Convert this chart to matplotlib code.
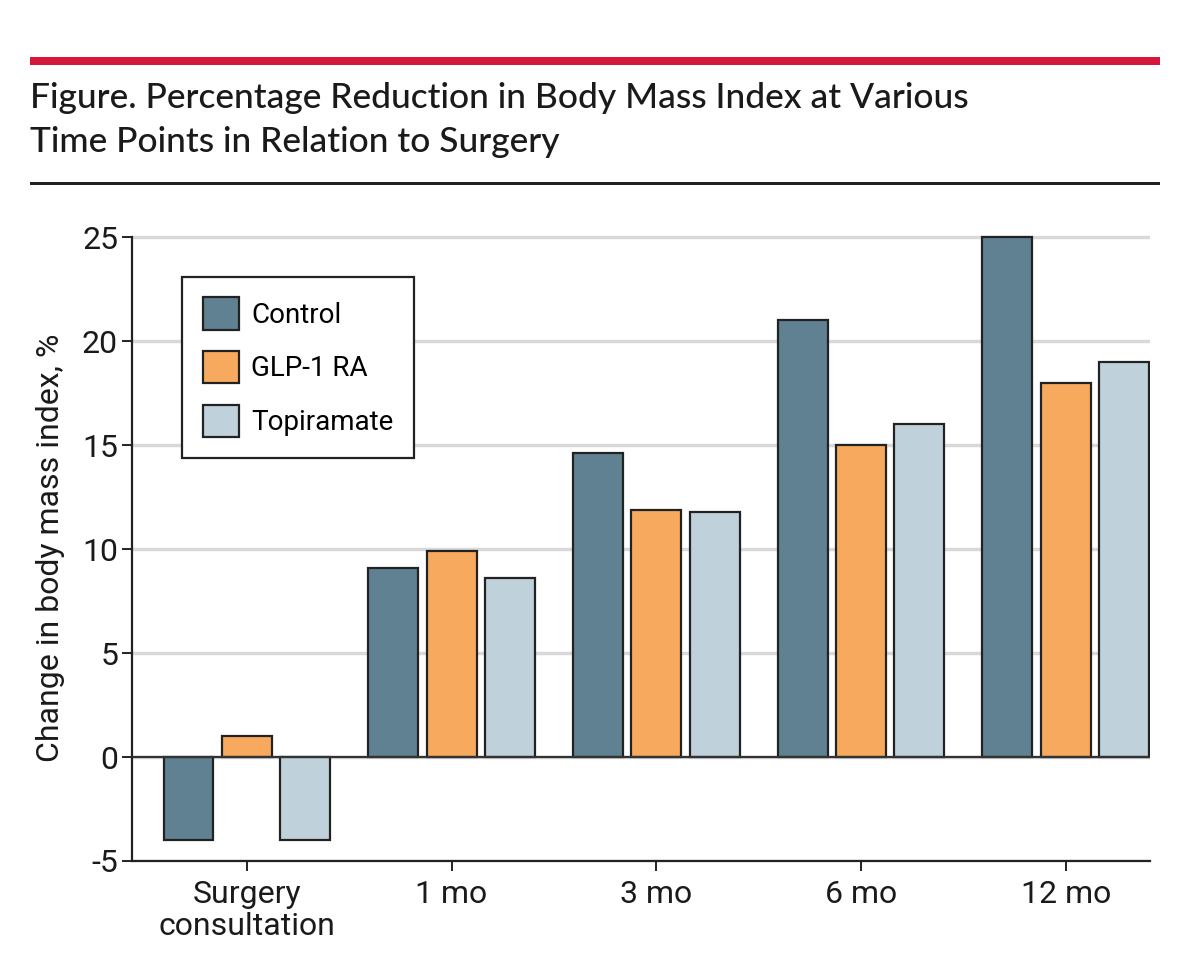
import numpy as np
import matplotlib
matplotlib.use('Agg')
import matplotlib.pyplot as plt
from matplotlib.patches import Rectangle

# chart data
categories = ['Surgery\nconsultation', '1 mo', '3 mo', '6 mo', '12 mo']
groups = ['Control', 'GLP-1 RA', 'Topiramate']
control = [-4.0, 9.1, 14.6, 21.0, 25.0]
glp1 = [1.0, 9.9, 11.9, 15.0, 18.0]
topiramate = [-4.0, 8.6, 11.8, 16.0, 19.0]
y_ticks = [-5, 0, 5, 10, 15, 20, 25]

colors = ['#5f8191', '#f7aa5e', '#bfd2dc']
edge = '#222222'
body_font = ['Roboto', 'DejaVu Sans']
title_font = ['Lato', 'DejaVu Sans']

plt.rcParams['axes.unicode_minus'] = False

fig = plt.figure(figsize=(12, 9.68), dpi=100, facecolor='w')

# header: red rule, title, black rule
fig.patches.append(Rectangle((30 / 1200, 1 - 65 / 968), 1130 / 1200, 8 / 968,
                             transform=fig.transFigure, color='#d4173a', lw=0))
fig.patches.append(Rectangle((30 / 1200, 1 - 185 / 968), 1130 / 1200, 3 / 968,
                             transform=fig.transFigure, color='#222222', lw=0))
fig.text(30 / 1200, 1 - 108 / 968, 'Figure. Percentage Reduction in Body Mass Index at Various',
         fontsize=25.5, family=title_font, weight='medium', color='#1a1a1a', va='baseline')
fig.text(30 / 1200, 1 - 152 / 968, 'Time Points in Relation to Surgery',
         fontsize=25.5, family=title_font, weight='medium', color='#1a1a1a', va='baseline')

ax = fig.add_axes([132 / 1200, 107 / 968, 1018 / 1200, 627 / 968])

x = np.arange(len(categories))
width = 0.244
step = 0.285
for i, (vals, name) in enumerate(zip([control, glp1, topiramate], groups)):
    ax.bar(x + (i - 1) * step, vals, width, color=colors[i], edgecolor=edge,
           linewidth=1.6, label=name, zorder=3)

ax.axhline(0, color='#333333', lw=1.6, zorder=4)
ax.set_axisbelow(True)
ax.grid(axis='y', color='#d9d9d9', lw=2.5)

ax.set_xlim(-0.561, 4.412)
ax.set_ylim(-5, 25.15)
ax.set_yticks(y_ticks)
ax.set_xticks(x)
ax.set_xticklabels(categories)

for s in ['top', 'right']:
    ax.spines[s].set_visible(False)
ax.spines['left'].set_bounds(-5, 25)
for s in ['left', 'bottom']:
    ax.spines[s].set_color('#222222')
    ax.spines[s].set_linewidth(1.6)

ax.tick_params(axis='both', length=7, width=1.4, color='#222222',
               labelsize=23, labelcolor='#1a1a1a')
ax.tick_params(axis='y', pad=3)
ax.tick_params(axis='x', pad=7)
for lab in ax.get_xticklabels() + ax.get_yticklabels():
    lab.set_family(body_font)
    lab.set_linespacing(1.1)

ax.set_ylabel('Change in body mass index, %', fontsize=23, family=body_font,
              color='#1a1a1a', labelpad=12)

leg = ax.legend(loc='upper left', bbox_to_anchor=(0.049, 0.932), borderaxespad=0,
                prop={'family': body_font, 'size': 20}, fancybox=False,
                edgecolor='#222222', framealpha=1, handlelength=1.3,
                handleheight=1.4, labelspacing=0.78, handletextpad=0.45,
                borderpad=0.75)
leg.get_frame().set_linewidth(1.6)

fig.savefig('out.png', dpi=100, facecolor='w')
